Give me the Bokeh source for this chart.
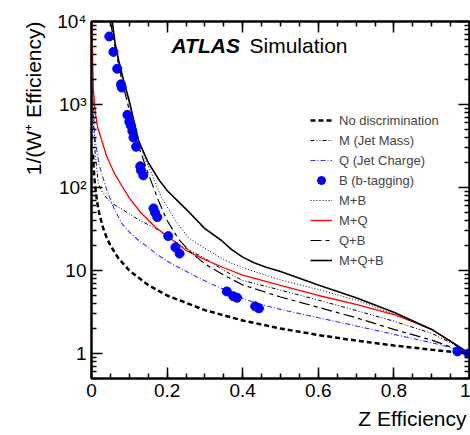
import math
from bokeh.plotting import figure
from bokeh.models import (Range1d, LinearAxis, LogAxis, Label, Legend, LegendItem,
                          FixedTicker, CustomJSTickFormatter, Title)
from bokeh.embed import file_html
from bokeh.resources import INLINE

FONT = "Liberation Sans"

# ---------------- data ----------------
nodisc_x = [0.004, 0.006, 0.008, 0.01, 0.015, 0.02, 0.03, 0.04, 0.05, 0.07, 0.1, 0.15,
            0.2, 0.3, 0.4, 0.5, 0.6, 0.7, 0.8, 0.9, 1.0]
nodisc_y = [250, 167, 125, 100, 66.7, 50, 33.3, 25, 20, 14.3, 10, 6.67,
            5, 3.33, 2.5, 2, 1.67, 1.43, 1.25, 1.11, 1.0]

m_x = [0.003, 0.006, 0.01, 0.018, 0.03, 0.05, 0.08, 0.12, 0.17, 0.21, 0.25, 0.3,
       0.35, 0.4, 0.5, 0.6, 0.7, 0.8, 0.9, 0.95, 1.0]
m_y = [1500, 500, 250, 112, 85, 66, 55, 42, 32, 24, 18.5, 14,
       10, 7.6, 5.8, 4.4, 3.3, 2.45, 1.75, 1.35, 1.0]

q_x = [0.002, 0.004, 0.008, 0.012, 0.02, 0.027, 0.04, 0.06, 0.08, 0.1, 0.125, 0.15,
       0.17, 0.2, 0.22, 0.25, 0.28, 0.32, 0.36, 0.4, 0.45, 0.5, 0.6, 0.7, 0.8, 0.9,
       0.95, 1.0]
q_y = [2800, 1100, 450, 320, 190, 147, 95, 55, 37, 29, 23, 19,
       16, 13, 11.5, 9.8, 8.3, 6.8, 5.7, 4.6, 3.9, 3.4, 2.7, 2.15, 1.7, 1.35,
       1.18, 1.0]

b_x = [0.047, 0.058, 0.068, 0.078, 0.080, 0.095, 0.100, 0.104, 0.108, 0.111, 0.118,
       0.129, 0.131, 0.137, 0.164, 0.168, 0.174, 0.203, 0.222, 0.233, 0.358, 0.375,
       0.385, 0.433, 0.443, 0.968, 0.997]
b_y = [6600, 4300, 2700, 1750, 1600, 750, 620, 560, 480, 400, 310,
       180, 160, 140, 56, 50, 44, 26, 19, 16, 5.6, 4.9,
       4.7, 3.7, 3.5, 1.06, 1.0]

mb_x = [0.052, 0.06, 0.07, 0.085, 0.1, 0.124, 0.14, 0.159, 0.185, 0.222, 0.256, 0.3,
        0.35, 0.4, 0.5, 0.6, 0.7, 0.8, 0.9, 0.95, 1.0]
mb_y = [10000, 6000, 3600, 1800, 1000, 400, 230, 147, 76, 40, 25, 18.5,
        13.5, 10.8, 7.7, 5.9, 4.4, 3.0, 1.95, 1.4, 1.0]

mq_x = [0.001, 0.003, 0.005, 0.01, 0.016, 0.027, 0.04, 0.06, 0.08, 0.1, 0.13, 0.17,
        0.2, 0.25, 0.3, 0.35, 0.4, 0.5, 0.6, 0.7, 0.8, 0.9, 0.95, 1.0]
mq_y = [10000, 3500, 1500, 800, 540, 368, 240, 150, 105, 75, 50, 33,
        26, 17.5, 13.5, 10.8, 8.8, 6.6, 5.0, 3.9, 2.95, 1.95, 1.4, 1.0]

qb_x = [0.05, 0.06, 0.07, 0.08, 0.1, 0.12, 0.15, 0.177, 0.2, 0.23, 0.26, 0.3,
        0.35, 0.4, 0.5, 0.6, 0.7, 0.8, 0.9, 0.95, 1.0]
qb_y = [10000, 5500, 3300, 2000, 850, 360, 147, 70, 40, 24, 17, 12,
        8.8, 6.7, 4.8, 3.6, 2.7, 1.95, 1.45, 1.2, 1.0]

mqb_x = [0.055, 0.062, 0.072, 0.085, 0.1, 0.124, 0.15, 0.18, 0.2, 0.25, 0.3, 0.344,
         0.37, 0.4, 0.43, 0.46, 0.5, 0.6, 0.7, 0.8, 0.9, 0.95, 1.0]
mqb_y = [10000, 5600, 3400, 1940, 1100, 370, 200, 121, 92, 55, 32, 23,
         18, 14.5, 12.4, 11.0, 9.7, 6.7, 4.7, 3.15, 1.95, 1.4, 1.0]

legend_labels = ["No discrimination", "M (Jet Mass)", "Q (Jet Charge)", "B (b-tagging)",
                 "M+B", "M+Q", "Q+B", "M+Q+B"]

x_ticks = [0, 0.2, 0.4, 0.6, 0.8, 1]
x_tick_labels = ["0", "0.2", "0.4", "0.6", "0.8", "1"]
y_ticks = [1, 10, 100, 1000, 10000]
y_tick_labels = ["1", "10", "10\u00b2", "10\u00b3", "10\u2074"]

x_title = "Z Efficiency"
y_title = "1/(W\u207a Efficiency)"

# ---------------- figure ----------------
p = figure(width=470, height=435, x_range=Range1d(0, 1), y_range=Range1d(0.5, 10000),
           y_axis_type="log", output_backend="svg", toolbar_location=None,
           min_border_left=91, min_border_right=1, min_border_top=21, min_border_bottom=57,
           x_axis_location=None, y_axis_location=None)
p.xgrid.visible = False
p.ygrid.visible = False
p.outline_line_color = "black"
p.outline_line_width = 2
p.background_fill_color = "white"
p.border_fill_color = "white"

x_minor = [i * 0.05 for i in range(21)]
y_minor = [m * 10.0 ** e for e in range(-1, 4) for m in range(2, 10) if 0.5 <= m * 10.0 ** e <= 10000]

xticker = FixedTicker(ticks=x_ticks, minor_ticks=x_minor)
yticker = FixedTicker(ticks=y_ticks, minor_ticks=y_minor)
blank = CustomJSTickFormatter(code="return '';")


def style(ax, labels=True):
    ax.axis_line_width = 2
    ax.axis_line_color = "black"
    ax.major_tick_in = 11
    ax.major_tick_out = 0
    ax.minor_tick_in = 5
    ax.minor_tick_out = 0
    ax.major_tick_line_width = 1.5
    ax.minor_tick_line_width = 1.5
    ax.major_tick_line_color = "black"
    ax.minor_tick_line_color = "black"
    ax.major_label_text_font = FONT
    ax.major_label_text_color = "black"
    if labels:
        ax.major_label_text_font_size = "19px"
    else:
        ax.major_label_text_font_size = "0px"
        ax.major_label_standoff = 0
        ax.formatter = blank


xb = LinearAxis(ticker=xticker, major_label_overrides=dict(zip(x_ticks, x_tick_labels)))
style(xb)
xb.major_label_standoff = 5
p.add_layout(xb, "below")

yl = LogAxis(ticker=yticker, major_label_overrides=dict(zip(y_ticks, y_tick_labels)))
style(yl)
yl.major_label_standoff = 5
p.add_layout(yl, "left")

xt = LinearAxis(ticker=xticker)
style(xt, labels=False)
p.add_layout(xt, "above")

yr = LogAxis(ticker=yticker)
style(yr, labels=False)
p.add_layout(yr, "right")

# axis titles as side-panel titles (aligned to the far ends, as in the reference)
p.add_layout(Title(text=y_title, align="right", text_font=FONT, text_font_size="21px",
                   text_font_style="normal", text_color="black", standoff=19), "left")
p.add_layout(Title(text=x_title, align="right", text_font=FONT, text_font_size="21px",
                   text_font_style="normal", text_color="black", standoff=10, offset=3), "below")

# ---------------- curves ----------------
r_nd = p.line(nodisc_x, nodisc_y, line_color="black", line_width=2.5, line_dash="5 3")
r_m = p.line(m_x, m_y, line_color="black", line_width=1, line_dash="4 2 1 2 1 2")
r_q = p.line(q_x, q_y, line_color="#3333ff", line_width=1.1, line_dash="5 2 1 2")
r_mb = p.line(mb_x, mb_y, line_color="black", line_width=1, line_dash="1 2")
r_mq = p.line(mq_x, mq_y, line_color="#ff0000", line_width=1.3)
r_qb = p.line(qb_x, qb_y, line_color="black", line_width=1.2, line_dash="11 4 4 4")
r_mqb = p.line(mqb_x, mqb_y, line_color="black", line_width=1.6)
r_b = p.scatter(b_x, b_y, size=9, fill_color="#0000ff", line_color="#0000ff")

renderers = [r_nd, r_m, r_q, r_b, r_mb, r_mq, r_qb, r_mqb]
legend = Legend(items=[LegendItem(label=l, renderers=[r]) for l, r in zip(legend_labels, renderers)],
                location=(219, 108), padding=0, spacing=0, margin=0,
                glyph_width=22, glyph_height=20, label_height=20, label_standoff=7,
                label_text_font=FONT, label_text_font_size="13px",
                border_line_color=None, background_fill_alpha=0)
p.add_layout(legend)

# ---------------- texts inside the frame ----------------
p.add_layout(Label(x=80, y=333, x_units="screen", y_units="screen", text="ATLAS",
                   text_align="left", text_baseline="middle", text_font_style="bold italic",
                   text_font=FONT, text_font_size="21px", text_color="black"))
p.add_layout(Label(x=158, y=333, x_units="screen", y_units="screen", text="Simulation",
                   text_align="left", text_baseline="middle",
                   text_font=FONT, text_font_size="21px", text_color="black"))

open("out.html", "w").write(file_html(p, INLINE))
